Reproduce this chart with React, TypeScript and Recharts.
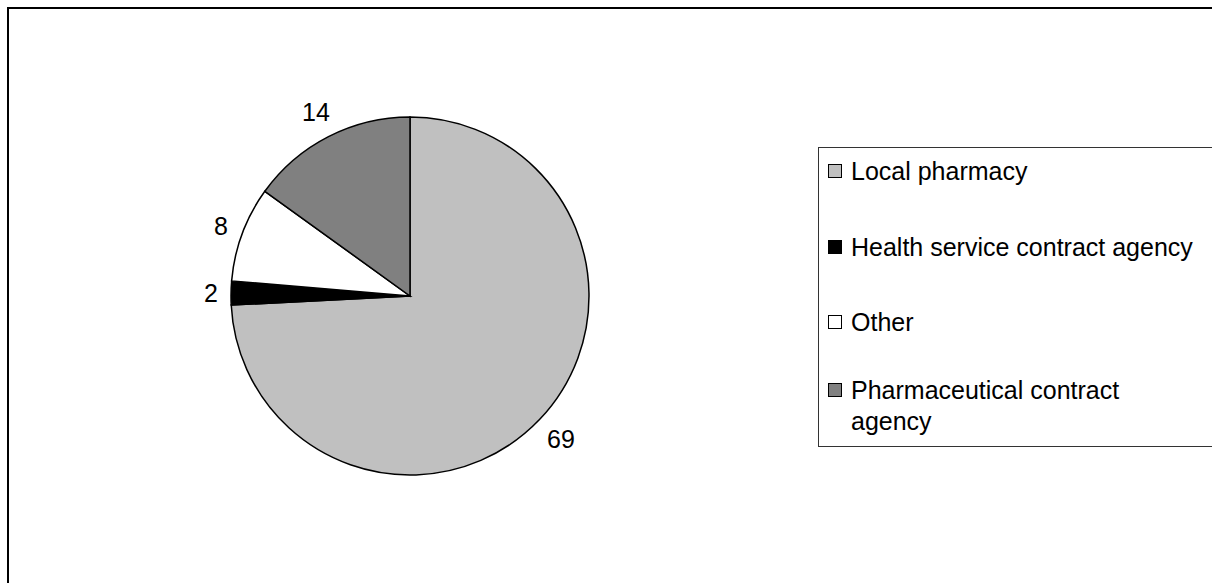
import { PieChart, Pie, Cell, Legend } from "recharts";

const categories = [
  "Local pharmacy",
  "Health service contract agency",
  "Other",
  "Pharmaceutical contract agency",
];
const values = [69, 2, 8, 14];
const colors = ["#C0C0C0", "#000000", "#FFFFFF", "#808080"];

const FONT = '"Liberation Sans", Arial, sans-serif';
const FONT_SIZE = 25;
const RADIAN = Math.PI / 180;

const chartData = categories.map((name, i) => ({ name, value: values[i] }));

// value label just outside the rim, pushed out by the half-extent of its text box
const renderLabel = (props: any) => {
  const { cx, cy, midAngle, outerRadius, value } = props;
  const cos = Math.cos(-midAngle * RADIAN);
  const sin = Math.sin(-midAngle * RADIAN);
  const halfW = (String(value).length * 0.556 * FONT_SIZE) / 2;
  const halfH = 9;
  const r = outerRadius + 13 + Math.abs(cos) * halfW + Math.abs(sin) * halfH;
  return (
    <text
      x={cx + r * cos}
      y={cy + r * sin}
      textAnchor="middle"
      dominantBaseline="central"
      fill="#000"
      fontFamily={FONT}
      fontSize={FONT_SIZE}
    >
      {value}
    </text>
  );
};

// row spacing inside the legend frame
const rowMargins = [8, 45, 44, 37];

const renderLegend = () => (
  <div
    style={{
      width: 420,
      height: 300,
      boxSizing: "border-box",
      borderTop: "1px solid #333",
      borderLeft: "1px solid #333",
      borderBottom: "1px solid #333",
      fontFamily: FONT,
      fontSize: FONT_SIZE,
      lineHeight: "31px",
      color: "#000",
      background: "#fff",
    }}
  >
    {chartData.map((d, i) => (
      <div
        key={d.name}
        style={{ display: "flex", alignItems: "flex-start", marginTop: rowMargins[i] }}
      >
        <span
          style={{
            width: 12,
            height: 12,
            marginLeft: 9,
            marginTop: 8,
            marginRight: 9,
            flex: "none",
            background: colors[i],
            border: "1px solid #000",
          }}
        />
        <span style={{ width: 348, flex: "none" }}>{d.name}</span>
      </div>
    ))}
  </div>
);

export default function App() {
  return (
    <div
      style={{
        position: "relative",
        width: 1212,
        height: 583,
        overflow: "hidden",
        background: "#fff",
      }}
    >
      <style>{"body{margin:0;overflow:hidden}"}</style>
      <div
        style={{
          position: "absolute",
          left: 7,
          top: 7,
          width: 1400,
          height: 800,
          borderTop: "2px solid #000",
          borderLeft: "2px solid #000",
        }}
      />
      <div style={{ position: "absolute", left: 0, top: 0 }}>
        <PieChart
          width={1212}
          height={583}
          margin={{ top: 0, right: 0, bottom: 0, left: 0 }}
        >
          <Pie
            data={chartData}
            dataKey="value"
            nameKey="name"
            cx={410}
            cy={296}
            outerRadius={179}
            startAngle={90}
            endAngle={-270}
            stroke="#000"
            strokeWidth={1.5}
            label={renderLabel}
            labelLine={false}
            isAnimationActive={false}
          >
            {chartData.map((d, i) => (
              <Cell key={d.name} fill={colors[i]} />
            ))}
          </Pie>
          <Legend
            layout="vertical"
            align="right"
            verticalAlign="middle"
            content={renderLegend}
            wrapperStyle={{ left: 818, top: 147, width: 420 }}
          />
        </PieChart>
      </div>
    </div>
  );
}
